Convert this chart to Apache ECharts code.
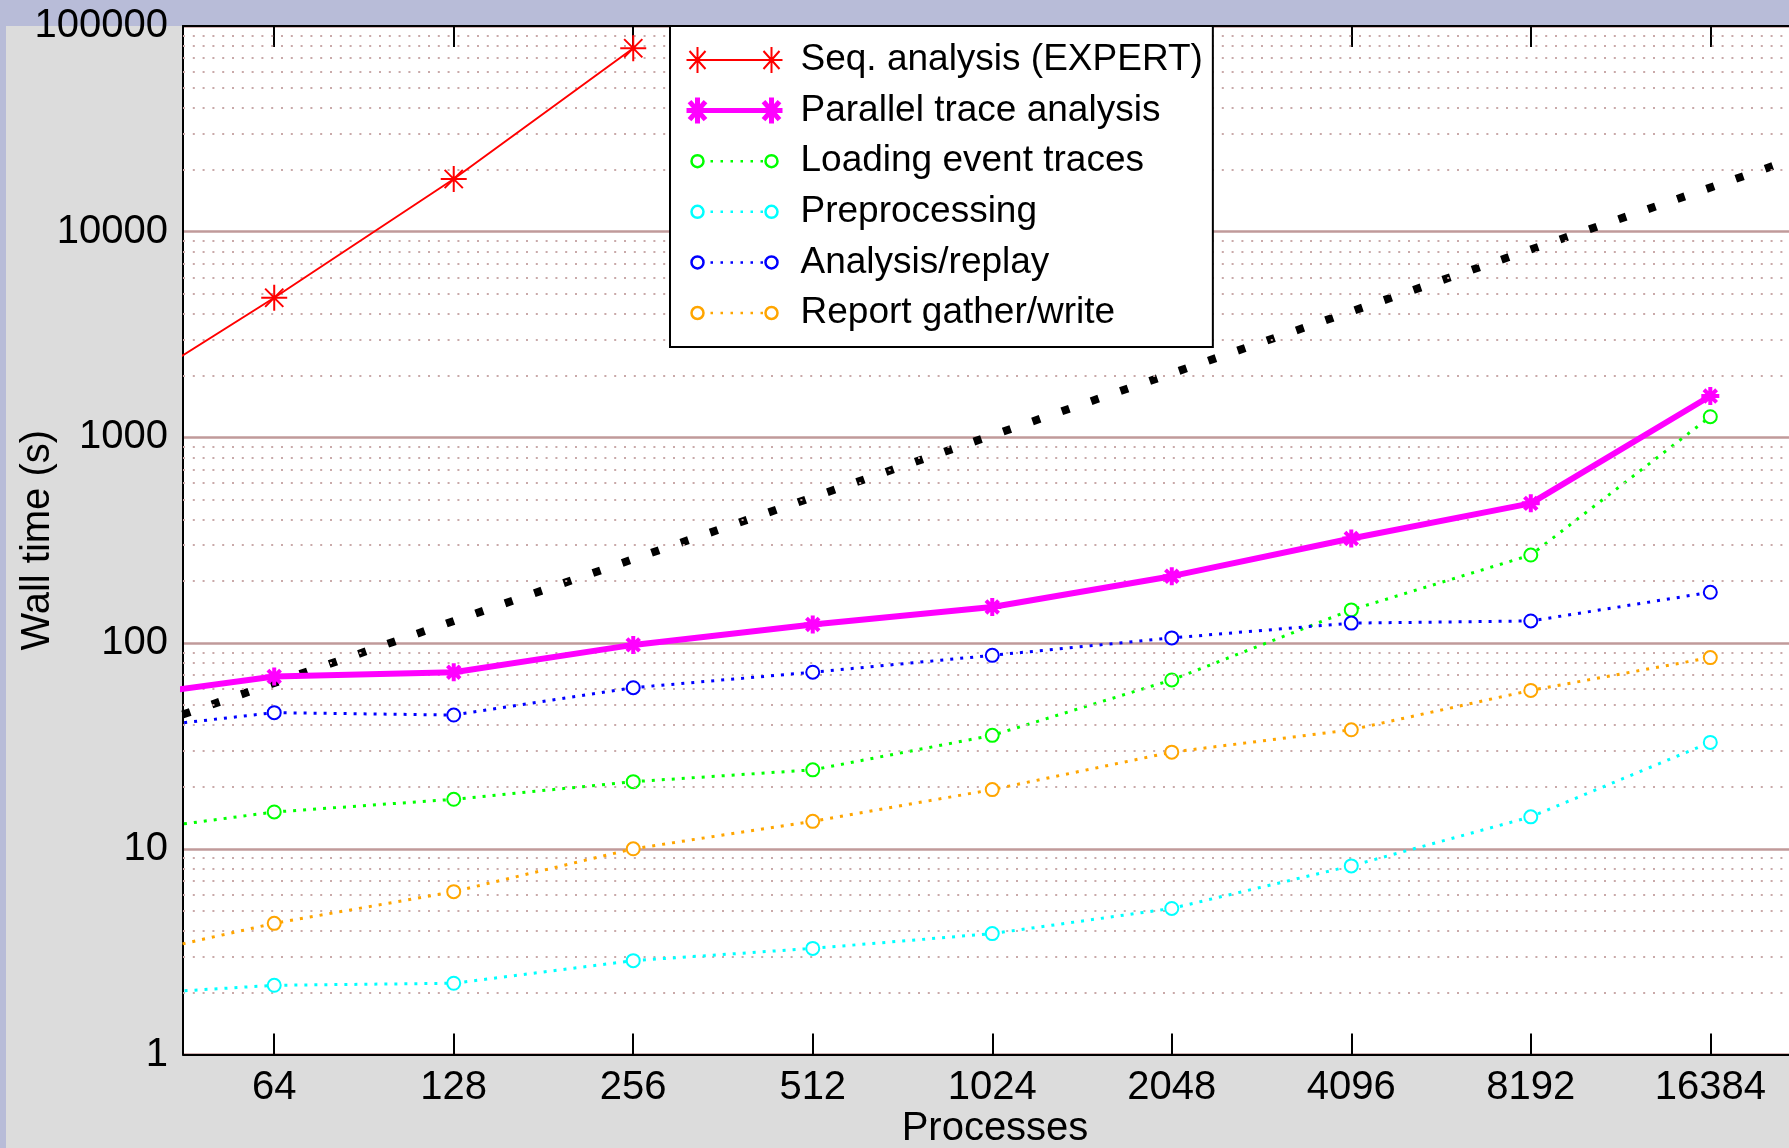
<!DOCTYPE html>
<html>
<head>
<meta charset="utf-8">
<script src="https://cdn.jsdelivr.net/npm/echarts@6/dist/echarts.min.js"></script>
<style>
html,body{margin:0;padding:0;background:#dcdcdc;}
#chart{width:1789px;height:1148px;}
</style>
</head>
<body>
<div id="chart"></div>
<script>
// ---- data ----
var procs = [32, 64, 128, 256, 512, 1024, 2048, 4096, 8192, 16384];
var seqProcs = [32, 64, 128, 256];
var seqAnalysis = [1346, 4775, 18040, 77950];
var parallelAnalysis = [52.5, 68.8, 72.2, 98.0, 123.2, 149.9, 211.5, 322.5, 478, 1589];
var loadingTraces = [11.6, 15.1, 17.4, 21.2, 24.2, 35.6, 66.2, 145, 268, 1261];
var preprocessing = [1.92, 2.17, 2.22, 2.86, 3.28, 3.87, 5.13, 8.26, 14.3, 32.9];
var analysisReplay = [36.7, 45.9, 44.7, 60.7, 72.2, 87.2, 106, 125.1, 128.1, 176.6];
var reportWrite = [2.77, 4.34, 6.19, 10.0, 13.6, 19.4, 29.5, 37.9, 58.9, 85];
var idealProcs = [32, 32768];
var idealTime = [32, 32768];
var xTicks = [64, 128, 256, 512, 1024, 2048, 4096, 8192, 16384];
var yTicks = [1, 10, 100, 1000, 10000, 100000];
var yMinorTicks = [2,3,4,5,6,7,8,9,20,30,40,50,60,70,80,90,200,300,400,500,600,700,800,900,
  2000,3000,4000,5000,6000,7000,8000,9000,20000,30000,40000,50000,60000,70000,80000,90000];

function pairs(xs, ys){ return ys.map(function(v,i){ return [xs[i], v]; }); }

var FONT = "'Liberation Sans', Arial, Helvetica, sans-serif";
var ASTERISK = 'path://M10,0L10,20M0,10L20,10M3,3L17,17M17,3L3,17';

// legend sample icons (marker - line - marker), 96 x 26 box
function astAt(cx){
  return 'M' + cx + ',0L' + cx + ',26M' + (cx-11) + ',13L' + (cx+11) + ',13M' + (cx-8) + ',4L' + (cx+8) + ',22M' + (cx+8) + ',4L' + (cx-8) + ',22';
}
var ICON_SOLID = 'path://M0,0L0,0M96,26L96,26' + astAt(11) + astAt(85) + 'M11,13L85,13';
function circAt(cx){
  return 'M' + (cx+6) + ',13A6,6 0 1,1 ' + (cx-6) + ',13A6,6 0 1,1 ' + (cx+6) + ',13Z';
}
var dotsPath = '';
[24, 34, 44, 54, 64, 74].forEach(function(x){ dotsPath += 'M' + x + ',13L' + (x+2.5) + ',13'; });
var ICON_DOTTED = 'path://M0,0L0,0M96,26L96,26' + circAt(11) + circAt(85) + dotsPath;

function dotted(name, color, vals, z){
  return {
    name: name, type: 'line', z: z,
    data: pairs(procs, vals),
    symbol: 'emptyCircle', symbolSize: 13,
    lineStyle: {color: color, width: 3, type: [3, 7], cap: 'butt'},
    itemStyle: {color: color, borderColor: color, borderWidth: 2.5}
  };
}
function dottedLegend(name, color){
  return {name: name, icon: ICON_DOTTED, itemStyle: {color: '#ffffff', borderColor: color, borderWidth: 2.5}};
}

var chart = echarts.init(document.getElementById('chart'), null, {renderer: 'canvas'});
chart.setOption({
  backgroundColor: '#dcdcdc',
  animation: false,
  textStyle: {fontFamily: FONT},
  graphic: {elements: [
    {type: 'rect', z: -10, shape: {x: 0, y: 0, width: 1789, height: 26}, style: {fill: '#b8bcd8'}},
    {type: 'rect', z: -10, shape: {x: 0, y: 0, width: 6, height: 1148}, style: {fill: '#b8bcd8'}}
  ]},
  grid: {left: 183, top: 26, right: -18, bottom: 93.5, show: true, backgroundColor: '#ffffff', borderWidth: 0,
         containLabel: false, outerBoundsMode: 'none'},
  legend: {
    orient: 'vertical', left: 670, top: 26, z: 20,
    backgroundColor: '#ffffff', borderColor: '#000000', borderWidth: 2,
    padding: [9, 10, 9, 14],
    itemWidth: 96, itemHeight: 26, itemGap: 0.6,
    symbolKeepAspect: false,
    textStyle: {fontSize: 37, fontFamily: FONT, color: '#000', lineHeight: 50, padding: [0, 0, 0, 13]},
    data: [
      {name: 'Seq. analysis (EXPERT)', icon: ICON_SOLID, itemStyle: {color: '#ff0000', borderColor: '#ff0000', borderWidth: 2}},
      {name: 'Parallel trace analysis', icon: ICON_SOLID, itemStyle: {color: '#ff00ff', borderColor: '#ff00ff', borderWidth: 5}},
      dottedLegend('Loading event traces', '#00ff00'),
      dottedLegend('Preprocessing', '#00ffff'),
      dottedLegend('Analysis/replay', '#0000ff'),
      dottedLegend('Report gather/write', '#ffa500')
    ]
  },
  xAxis: [{
    type: 'log', logBase: 2, min: 45, max: 23800, splitNumber: 10,
    position: 'bottom',
    name: 'Processes', nameLocation: 'middle', nameGap: 54, nameMoveOverlap: false,
    nameTextStyle: {fontSize: 40, color: '#000', fontFamily: FONT},
    axisLine: {show: true, lineStyle: {color: '#000', width: 2}},
    axisTick: {show: true, inside: true, length: 21, lineStyle: {color: '#000', width: 2}},
    axisLabel: {fontSize: 40, color: '#000', margin: 13, fontFamily: FONT,
      formatter: function(v){ return xTicks.indexOf(Math.round(v)) >= 0 ? String(Math.round(v)) : ''; }},
    splitLine: {show: false}
  }, {
    type: 'log', logBase: 2, min: 45, max: 23800, splitNumber: 10,
    position: 'top',
    axisLine: {show: true, lineStyle: {color: '#000', width: 2}},
    axisTick: {show: true, inside: true, length: 21, lineStyle: {color: '#000', width: 2}},
    axisLabel: {show: false},
    splitLine: {show: false}
  }],
  yAxis: {
    type: 'log', logBase: 10, min: 1, max: 100000, splitNumber: 5,
    name: 'Wall time (s)', nameLocation: 'middle', nameGap: 125, nameRotate: 90, nameMoveOverlap: false,
    nameTextStyle: {fontSize: 40, color: '#000', fontFamily: FONT},
    axisLine: {show: true, lineStyle: {color: '#000', width: 2}},
    axisTick: {show: false},
    axisLabel: {fontSize: 40, color: '#000', margin: 15, fontFamily: FONT,
      formatter: function(v){ var r = Math.round(v); return yTicks.indexOf(r) >= 0 ? String(r) : ''; }},
    splitLine: {show: true, lineStyle: {color: '#c09a9a', width: 2.5}}
  },
  series: [
    {
      name: 'ideal', type: 'line', z: 2,
      data: pairs(idealProcs, idealTime),
      symbol: 'none',
      lineStyle: {color: '#000', width: 8, type: [8, 23], cap: 'butt'},
      markLine: {
        silent: true, symbol: ['none', 'none'], label: {show: false},
        lineStyle: {color: '#c9a9a9', width: 2, type: [2, 7.8]},
        emphasis: {disabled: true},
        data: yMinorTicks.map(function(v){ return {yAxis: v}; })
      }
    },
    {
      name: 'Seq. analysis (EXPERT)', type: 'line', z: 9,
      data: pairs(seqProcs, seqAnalysis),
      symbol: ASTERISK, symbolSize: 26,
      lineStyle: {color: '#ff0000', width: 2},
      itemStyle: {color: '#ff0000', borderColor: '#ff0000', borderWidth: 2}
    },
    dotted('Loading event traces', '#00ff00', loadingTraces, 4),
    dotted('Preprocessing', '#00ffff', preprocessing, 5),
    dotted('Analysis/replay', '#0000ff', analysisReplay, 6),
    dotted('Report gather/write', '#ffa500', reportWrite, 7),
    {
      name: 'Parallel trace analysis', type: 'line', z: 8,
      data: pairs(procs, parallelAnalysis),
      symbol: ASTERISK, symbolSize: 18,
      lineStyle: {color: '#ff00ff', width: 6},
      itemStyle: {color: '#ff00ff', borderColor: '#ff00ff', borderWidth: 4}
    }
  ]
});
</script>
</body>
</html>
